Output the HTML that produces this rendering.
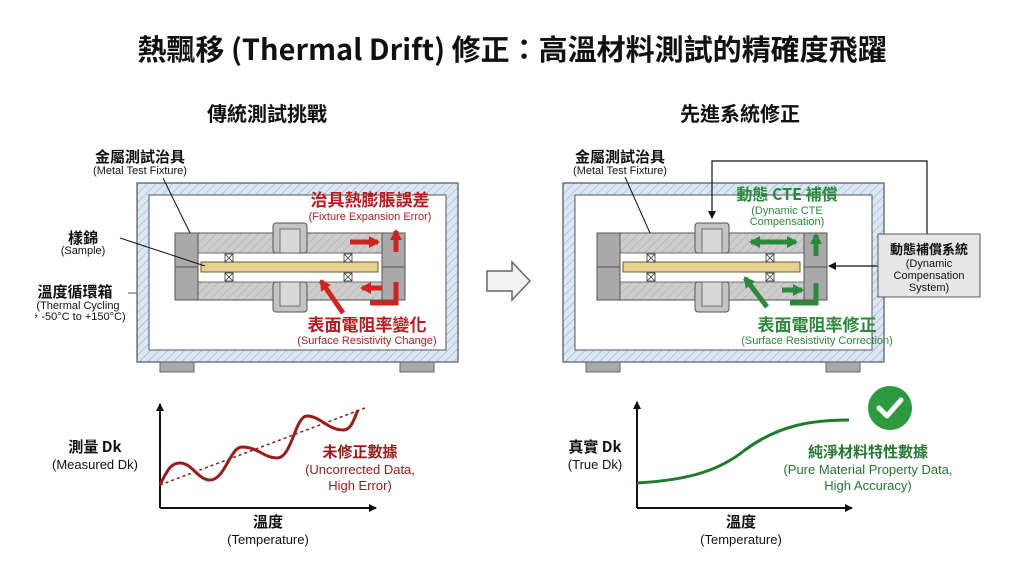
<!DOCTYPE html>
<html><head><meta charset="utf-8"><style>
html,body{margin:0;padding:0;background:#fff;}
svg{display:block;}
text{font-family:"Liberation Sans","Noto Sans CJK TC",sans-serif;}
.cj{font-family:"Noto Sans CJK TC","Liberation Sans",sans-serif;}
</style></head><body>
<svg width="1024" height="572" viewBox="0 0 1024 572" xmlns="http://www.w3.org/2000/svg">
<defs>
<pattern id="hb" width="6" height="6" patternUnits="userSpaceOnUse" patternTransform="rotate(45)">
<rect width="6" height="6" fill="#dbe8f4"/><line x1="0" y1="0" x2="0" y2="6" stroke="#8fb1d1" stroke-width="1.2"/></pattern>
<pattern id="hg" width="6" height="6" patternUnits="userSpaceOnUse" patternTransform="rotate(45)">
<rect width="6" height="6" fill="#cdcdcd"/><line x1="0" y1="0" x2="0" y2="6" stroke="#a9a9a9" stroke-width="1"/></pattern>
<marker id="ak" markerWidth="8" markerHeight="8" refX="7" refY="4" orient="auto" markerUnits="userSpaceOnUse"><path d="M0,0 L8,4 L0,8z" fill="#111"/></marker>
<marker id="ar" markerWidth="14" markerHeight="14" refX="9" refY="7" orient="auto" markerUnits="userSpaceOnUse"><path d="M0,1 L11,7 L0,13z" fill="#d0231f"/></marker>
<marker id="ag" markerWidth="14" markerHeight="14" refX="9" refY="7" orient="auto" markerUnits="userSpaceOnUse"><path d="M0,1 L11,7 L0,13z" fill="#2a8a3a"/></marker>
<marker id="ag2" markerWidth="14" markerHeight="14" refX="2" refY="7" orient="auto" markerUnits="userSpaceOnUse"><path d="M11,1 L0,7 L11,13z" fill="#2a8a3a"/></marker>
<g id="fix">
<rect x="198" y="233" width="185" height="67" fill="url(#hg)" stroke="#555" stroke-width="1"/>
<rect x="198" y="253" width="184" height="29" fill="#fff" stroke="#555" stroke-width="0.8"/>
<rect x="175" y="233" width="23" height="67" fill="#a9a9a9" stroke="#555"/>
<line x1="175" y1="267" x2="198" y2="267" stroke="#555"/>
<rect x="382" y="233" width="23" height="67" fill="#a9a9a9" stroke="#555"/>
<line x1="382" y1="267" x2="405" y2="267" stroke="#555"/>
<rect x="273" y="223" width="34" height="30" rx="3" fill="#c4c4c4" stroke="#555"/>
<rect x="280" y="229" width="20" height="24" fill="#d8d8d8" stroke="#555" stroke-width="0.8"/>
<rect x="273" y="282" width="34" height="30" rx="3" fill="#c4c4c4" stroke="#555"/>
<rect x="280" y="282" width="20" height="24" fill="#d8d8d8" stroke="#555" stroke-width="0.8"/>
<rect x="201" y="262" width="177" height="10" fill="#e8d08f" stroke="#6b5a2a" stroke-width="1"/>
<g stroke="#333" stroke-width="0.8" fill="#fff">
<rect x="225" y="254" width="8" height="8"/><path d="M225,254 L233,262 M233,254 L225,262"/>
<rect x="225" y="273" width="8" height="8"/><path d="M225,273 L233,281 M233,273 L225,281"/>
<rect x="344" y="254" width="8" height="8"/><path d="M344,254 L352,262 M352,254 L344,262"/>
<rect x="344" y="273" width="8" height="8"/><path d="M344,273 L352,281 M352,273 L344,281"/>
</g></g>
<g id="chamber">
<rect x="137" y="183" width="321" height="179" fill="url(#hb)" stroke="#555" stroke-width="1.2"/>
<rect x="149" y="195" width="297" height="155" fill="#fff" stroke="#555" stroke-width="1"/>
<rect x="160" y="362" width="34" height="10" fill="#a9a9a9" stroke="#666"/>
<rect x="400" y="362" width="34" height="10" fill="#a9a9a9" stroke="#666"/>
</g>
</defs>

<text x="512" y="60" text-anchor="middle" font-size="29" font-weight="bold" fill="#111" class="cj">熱飄移 (Thermal Drift) 修正：高溫材料測試的精確度飛躍</text>
<text x="267" y="121" text-anchor="middle" font-size="20" font-weight="bold" fill="#111" class="cj">傳統測試挑戰</text>
<text x="740" y="121" text-anchor="middle" font-size="20" font-weight="bold" fill="#111" class="cj">先進系統修正</text>

<use href="#chamber"/>
<use href="#fix"/>
<g stroke="#d0231f" stroke-width="5" fill="none">
<line x1="350" y1="242" x2="378" y2="242" marker-end="url(#ar)"/>
<line x1="396" y1="252" x2="396" y2="231" marker-end="url(#ar)"/>
<line x1="382" y1="288" x2="362" y2="288" marker-end="url(#ar)"/>
<polyline points="396,282 396,303 370,303"/>
<line x1="343" y1="313" x2="321" y2="281" marker-end="url(#ar)"/>
</g>
<text x="370" y="206" text-anchor="middle" font-size="17" font-weight="bold" fill="#c0171c" class="cj">治具熱膨脹誤差</text>
<text x="370" y="220" text-anchor="middle" font-size="11" fill="#c0171c">(Fixture Expansion Error)</text>
<text x="367" y="331" text-anchor="middle" font-size="17" font-weight="bold" fill="#c0171c" class="cj">表面電阻率變化</text>
<text x="367" y="344" text-anchor="middle" font-size="11" fill="#c0171c">(Surface Resistivity Change)</text>
<text x="140" y="162" text-anchor="middle" font-size="15" font-weight="bold" fill="#111" class="cj">金屬測試治具</text>
<text x="140" y="174" text-anchor="middle" font-size="11" fill="#111">(Metal Test Fixture)</text>
<line x1="163" y1="178" x2="190" y2="233" stroke="#111"/>
<text x="83" y="243" text-anchor="middle" font-size="15" font-weight="bold" fill="#111" class="cj">樣錦</text>
<text x="83" y="254" text-anchor="middle" font-size="11" fill="#111">(Sample)</text>
<line x1="120" y1="238" x2="205" y2="266" stroke="#111"/>
<text x="75" y="297" text-anchor="middle" font-size="15" font-weight="bold" fill="#111" class="cj">溫度循環箱</text>
<line x1="128" y1="293" x2="137" y2="293" stroke="#555"/>
<text x="78" y="309" text-anchor="middle" font-size="11" fill="#111">(Thermal Cycling</text>
<text x="78" y="320" text-anchor="middle" font-size="11" fill="#111">，-50°C to +150°C)</text>

<path d="M487,271 L512,271 L512,262 L530,281 L512,300 L512,291 L487,291z" fill="#f2f2f2" stroke="#666" stroke-width="1.5"/>

<g transform="translate(426,0)"><use href="#chamber"/></g>
<g transform="translate(422,0)"><use href="#fix"/></g>
<polyline points="927,234 927,161 712,161 712,218" fill="none" stroke="#111" stroke-width="1.2" marker-end="url(#ak)"/>
<line x1="878" y1="266" x2="829" y2="266" stroke="#111" stroke-width="1.2" marker-end="url(#ak)"/>
<rect x="878" y="234" width="102" height="63" fill="#e6e6e6" stroke="#555"/>
<text x="929" y="254" text-anchor="middle" font-size="13" font-weight="bold" fill="#111" class="cj">動態補償系統</text>
<text x="929" y="267" text-anchor="middle" font-size="11" fill="#111">(Dynamic</text>
<text x="929" y="279" text-anchor="middle" font-size="11" fill="#111">Compensation</text>
<text x="929" y="291" text-anchor="middle" font-size="11" fill="#111">System)</text>
<g stroke="#2a8a3a" stroke-width="5" fill="none">
<line x1="751" y1="242" x2="796" y2="242" marker-start="url(#ag2)" marker-end="url(#ag)"/>
<line x1="816" y1="256" x2="816" y2="235" marker-end="url(#ag)"/>
<line x1="782" y1="290" x2="802" y2="290" marker-end="url(#ag)"/>
<polyline points="816,283 816,303 790,303"/>
<line x1="767" y1="307" x2="745" y2="278" marker-end="url(#ag)"/>
</g>
<text x="787" y="200" text-anchor="middle" font-size="16" font-weight="bold" fill="#2a8a3a" class="cj">動態 CTE 補償</text>
<text x="787" y="214" text-anchor="middle" font-size="11" fill="#2a8a3a">(Dynamic CTE</text>
<text x="787" y="225" text-anchor="middle" font-size="11" fill="#2a8a3a">Compensation)</text>
<text x="817" y="331" text-anchor="middle" font-size="17" font-weight="bold" fill="#2a8a3a" class="cj">表面電阻率修正</text>
<text x="817" y="344" text-anchor="middle" font-size="11" fill="#2a8a3a">(Surface Resistivity Correction)</text>
<text x="620" y="162" text-anchor="middle" font-size="15" font-weight="bold" fill="#111" class="cj">金屬測試治具</text>
<text x="620" y="174" text-anchor="middle" font-size="11" fill="#111">(Metal Test Fixture)</text>
<line x1="625" y1="177" x2="650" y2="233" stroke="#111"/>

<line x1="160" y1="508" x2="160" y2="404" stroke="#111" stroke-width="2" marker-end="url(#ak)"/>
<line x1="160" y1="508" x2="376" y2="508" stroke="#111" stroke-width="2" marker-end="url(#ak)"/>
<line x1="160" y1="485" x2="365" y2="408" stroke="#8b1a1a" stroke-width="1.5" stroke-dasharray="3,3"/>
<path d="M160,485 C168,468 172,463 180,463 C192,463 198,480 210,480 C225,480 230,447 242,447 C258,447 264,458 277,458 C292,458 295,416 307,416 C320,416 328,430 343,430 C352,430 354,418 358,410" fill="none" stroke="#9b1b1b" stroke-width="3"/>
<text x="95" y="452" text-anchor="middle" font-size="15" font-weight="bold" fill="#111" class="cj">測量 Dk</text>
<text x="95" y="469" text-anchor="middle" font-size="13" fill="#111">(Measured Dk)</text>
<text x="360" y="457" text-anchor="middle" font-size="15" font-weight="bold" fill="#a31818" class="cj">未修正數據</text>
<text x="360" y="474" text-anchor="middle" font-size="13" fill="#a31818">(Uncorrected Data,</text>
<text x="360" y="490" text-anchor="middle" font-size="13" fill="#a31818">High Error)</text>
<text x="268" y="527" text-anchor="middle" font-size="15" font-weight="bold" fill="#111" class="cj">溫度</text>
<text x="268" y="544" text-anchor="middle" font-size="13" fill="#111">(Temperature)</text>

<line x1="637" y1="508" x2="637" y2="402" stroke="#111" stroke-width="2" marker-end="url(#ak)"/>
<line x1="637" y1="508" x2="852" y2="508" stroke="#111" stroke-width="2" marker-end="url(#ak)"/>
<path d="M637,483 C690,480 720,470 745,450 C780,424 815,420 849,420" fill="none" stroke="#1f7a2e" stroke-width="3"/>
<circle cx="890" cy="408" r="22" fill="#2e9a40"/>
<path d="M879,408 L887,416 L901,400" fill="none" stroke="#fff" stroke-width="5" stroke-linecap="round" stroke-linejoin="round"/>
<text x="595" y="452" text-anchor="middle" font-size="15" font-weight="bold" fill="#111" class="cj">真實 Dk</text>
<text x="595" y="469" text-anchor="middle" font-size="13" fill="#111">(True Dk)</text>
<text x="868" y="457" text-anchor="middle" font-size="15" font-weight="bold" fill="#1f7a2e" class="cj">純淨材料特性數據</text>
<text x="868" y="474" text-anchor="middle" font-size="13" fill="#1f7a2e">(Pure Material Property Data,</text>
<text x="868" y="490" text-anchor="middle" font-size="13" fill="#1f7a2e">High Accuracy)</text>
<text x="741" y="527" text-anchor="middle" font-size="15" font-weight="bold" fill="#111" class="cj">溫度</text>
<text x="741" y="544" text-anchor="middle" font-size="13" fill="#111">(Temperature)</text>
</svg>
</body></html>
